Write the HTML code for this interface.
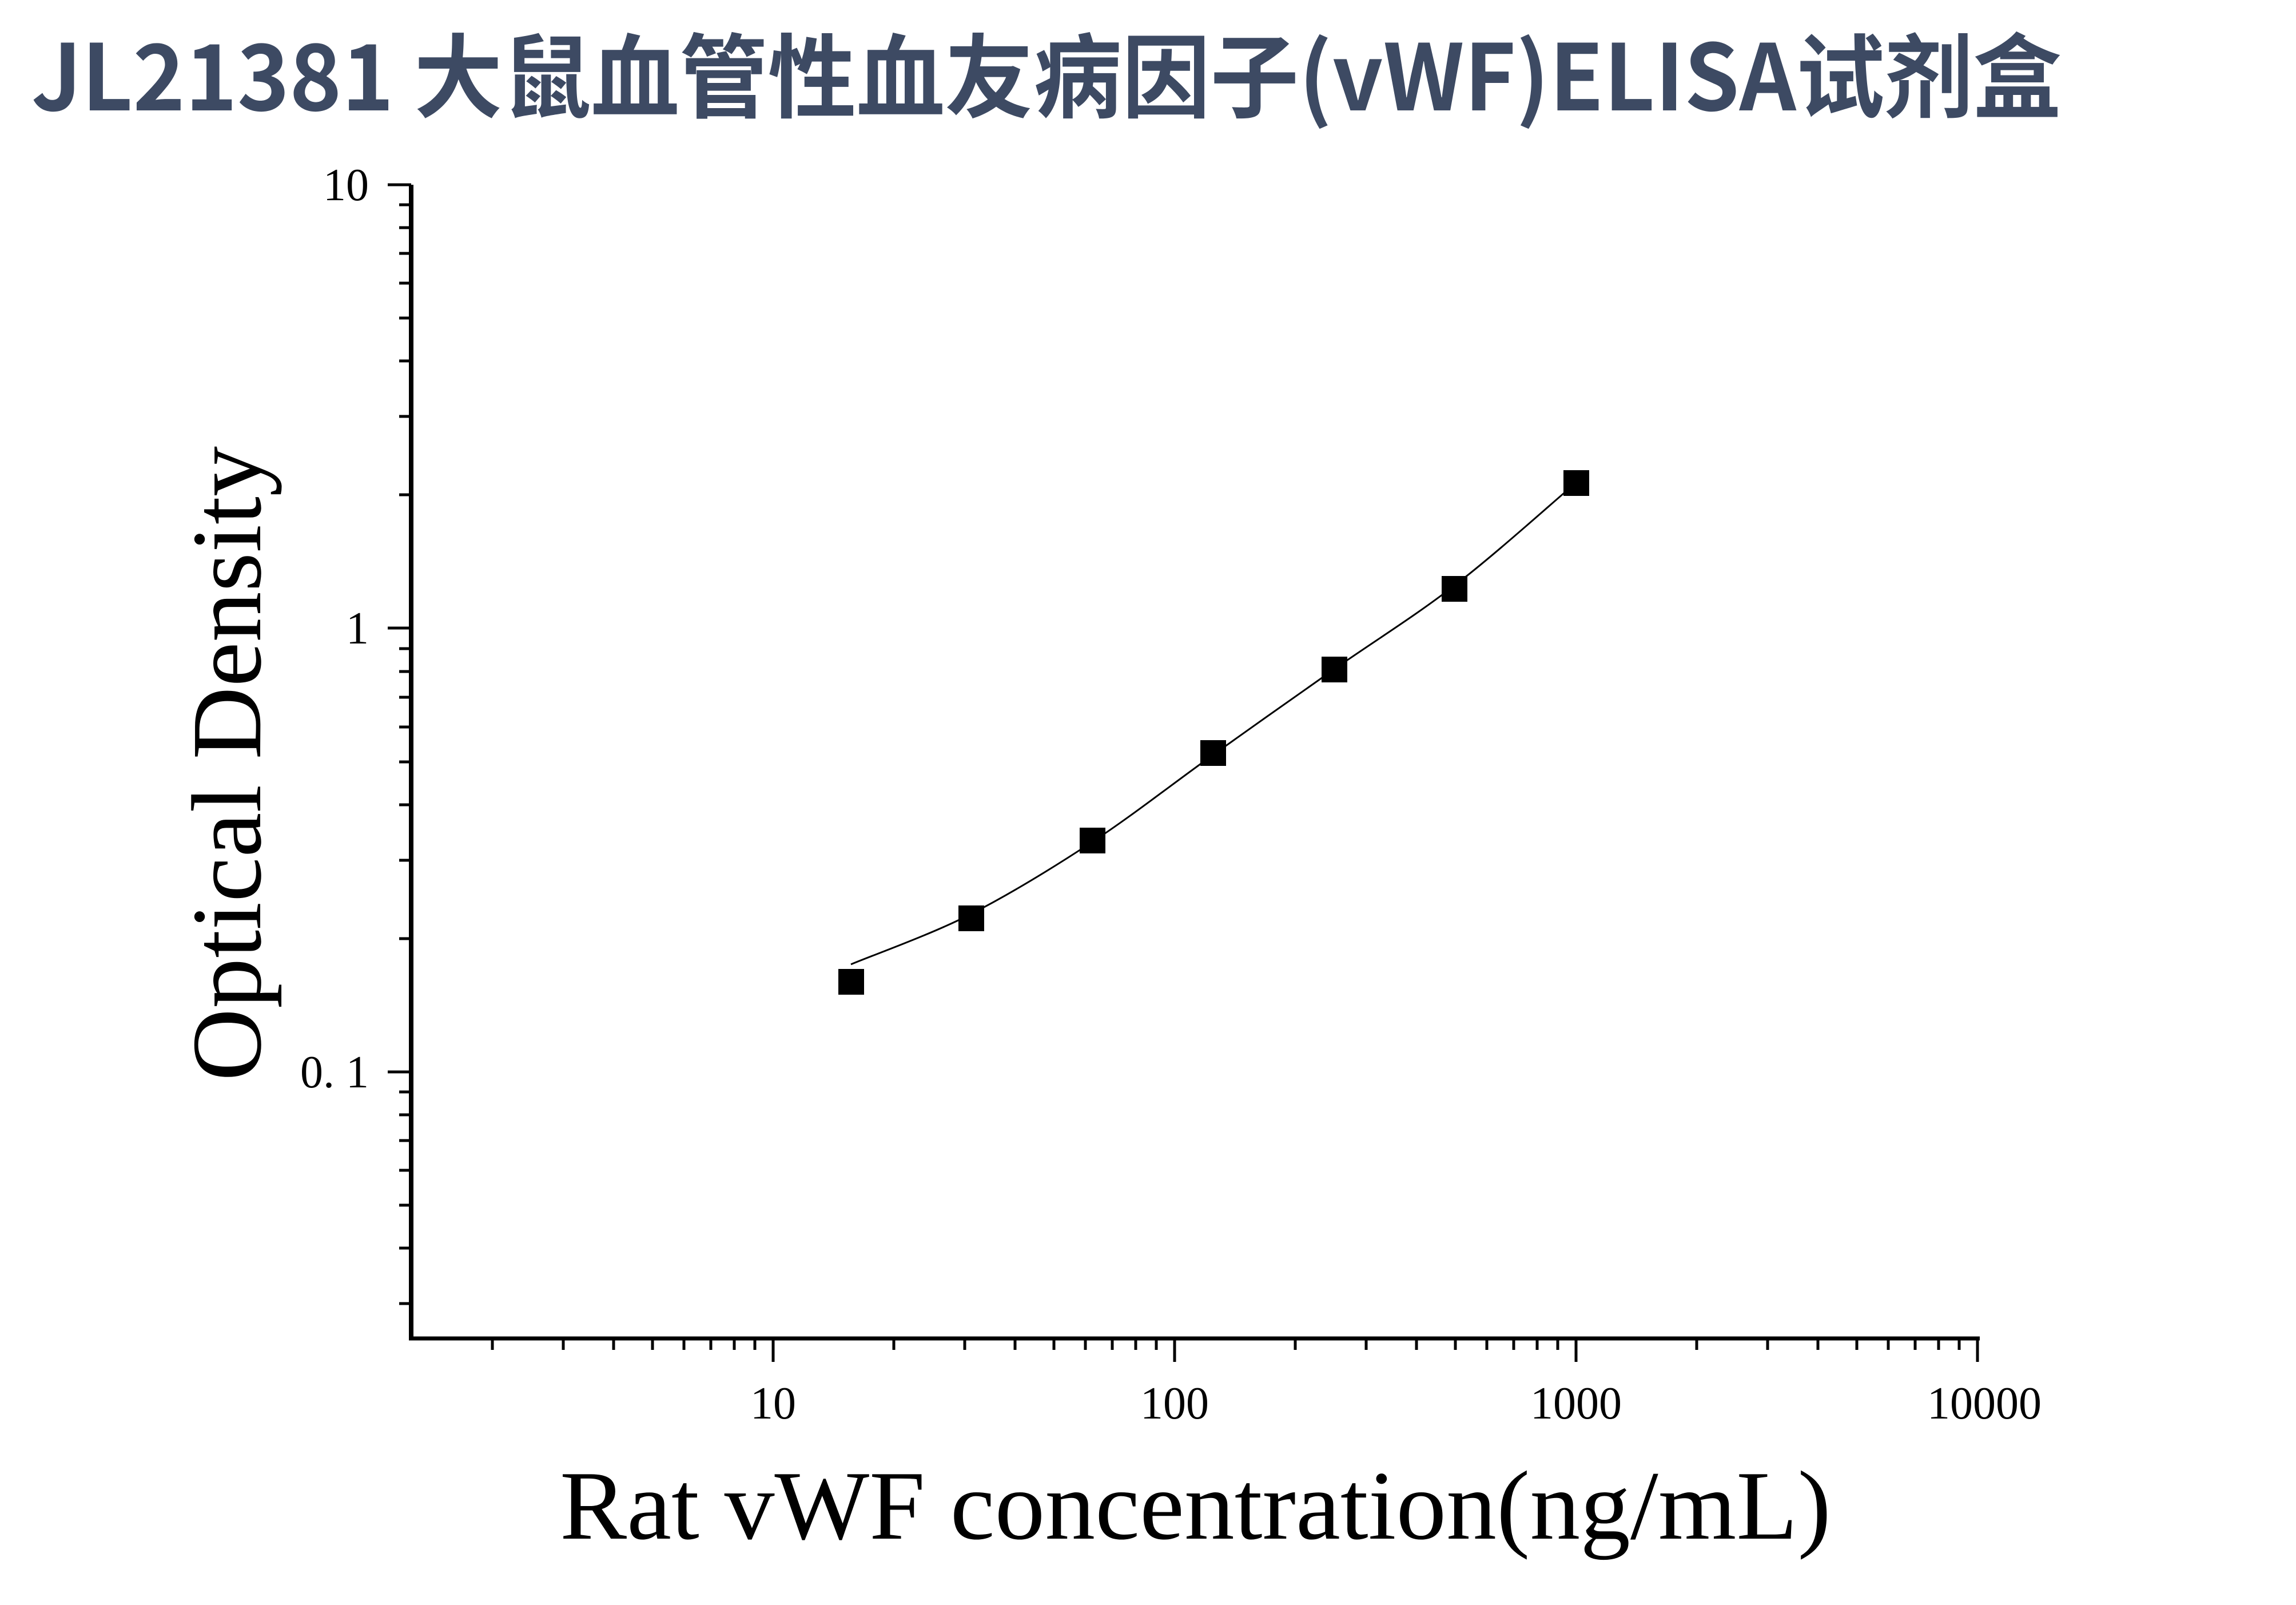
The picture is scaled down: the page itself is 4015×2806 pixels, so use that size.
<!DOCTYPE html>
<html><head><meta charset="utf-8"><style>
html,body{margin:0;padding:0;background:#fff;}
svg{display:block;}
</style></head><body>
<svg width="4015" height="2806" viewBox="0 0 4015 2806" xmlns="http://www.w3.org/2000/svg">
<rect width="4015" height="2806" fill="#fff"/>
<text x="55" y="193" font-family="'Noto Sans CJK SC','Liberation Sans',sans-serif" font-weight="bold" font-size="160" fill="#3d4a63" textLength="3550" lengthAdjust="spacingAndGlyphs">JL21381 大鼠血管性血友病因子(vWF)ELISA试剂盒</text>
<g stroke="#000" fill="none">
<line x1="719" y1="323" x2="719" y2="2343" stroke-width="8"/>
<line x1="715" y1="2340" x2="3462" y2="2340" stroke-width="7"/>
<g stroke-width="5">
<path d="M678 323H719M678 1098H719M678 1874H719"/>
<path d="M698 865H719M698 728H719M698 631H719M698 556H719M698 495H719M698 443H719M698 398H719M698 358H719"/>
<path d="M698 1641H719M698 1504H719M698 1407H719M698 1332H719M698 1271H719M698 1219H719M698 1174H719M698 1134H719"/>
<path d="M698 1909H719M698 1949H719M698 1994H719M698 2046H719M698 2107H719M698 2182H719M698 2279H719"/>
<path d="M1352 2340V2381M2054 2340V2381M2756 2340V2381M3458 2340V2381"/>
<path d="M861 2340V2360M985 2340V2360M1073 2340V2360M1141 2340V2360M1196 2340V2360M1243 2340V2360M1284 2340V2360M1320 2340V2360"/>
<path d="M1563 2340V2360M1687 2340V2360M1775 2340V2360M1843 2340V2360M1898 2340V2360M1945 2340V2360M1986 2340V2360M2022 2340V2360"/>
<path d="M2265 2340V2360M2389 2340V2360M2477 2340V2360M2545 2340V2360M2600 2340V2360M2647 2340V2360M2688 2340V2360M2724 2340V2360"/>
<path d="M2967 2340V2360M3091 2340V2360M3179 2340V2360M3247 2340V2360M3302 2340V2360M3349 2340V2360M3390 2340V2360M3426 2340V2360"/>
</g>
<path d="M1488 1686 C1523 1671 1628 1634 1698 1598 C1768 1562 1840 1518 1910 1472 C1980 1426 2051 1370 2121 1320 C2191 1270 2263 1219 2333 1170 C2403 1121 2473 1078 2543 1024 C2614 970 2720 874 2756 844" stroke-width="3"/>
</g>
<g fill="#000">
<rect x="1466" y="1694" width="45" height="45"/>
<rect x="1676" y="1583" width="45" height="45"/>
<rect x="1888" y="1447" width="45" height="45"/>
<rect x="2099" y="1294" width="45" height="45"/>
<rect x="2311" y="1148" width="45" height="45"/>
<rect x="2521" y="1007" width="45" height="45"/>
<rect x="2734" y="822" width="45" height="45"/>
</g>
<g font-family="'Liberation Serif',serif" font-size="80" fill="#000">
<text x="645" y="350" text-anchor="end">10</text>
<text x="645" y="1125" text-anchor="end">1</text>
<text x="645" y="1901" text-anchor="end" xml:space="preserve">0. 1</text>
<text x="1352" y="2480" text-anchor="middle">10</text>
<text x="2054" y="2480" text-anchor="middle">100</text>
<text x="2756" y="2480" text-anchor="middle">1000</text>
<text x="3470" y="2480" text-anchor="middle">10000</text>
</g>
<text x="979" y="2690" font-family="'Liberation Serif',serif" font-size="172" fill="#000" textLength="2223" lengthAdjust="spacingAndGlyphs">Rat vWF concentration(ng/mL)</text>
<text transform="translate(455,1890) rotate(-90)" x="0" y="0" font-family="'Liberation Serif',serif" font-size="174" fill="#000" textLength="1110" lengthAdjust="spacingAndGlyphs">Optical Density</text>
</svg>
</body></html>
